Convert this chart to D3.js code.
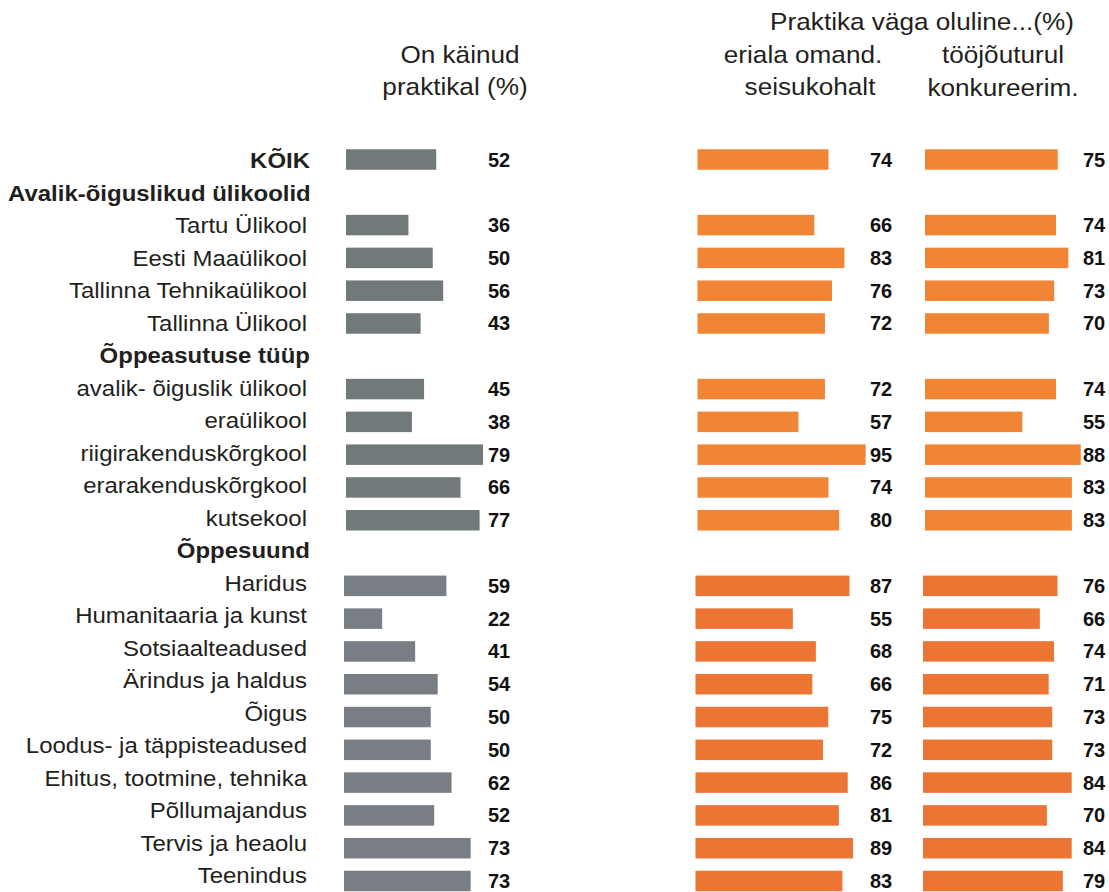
<!DOCTYPE html>
<html><head><meta charset="utf-8">
<script src="https://cdn.jsdelivr.net/npm/d3@7"></script>
<style>
html,body{margin:0;padding:0;background:#fff;}
svg text{font-family:"Liberation Sans",Arial,Helvetica,sans-serif;}
</style></head>
<body>
<svg id="chart" width="1109" height="892"></svg>
<script>
// Row labels (rows with null values are group headers)
const rows = [
  "KÕIK",
  "Avalik-õiguslikud ülikoolid",
  "Tartu Ülikool","Eesti Maaülikool","Tallinna Tehnikaülikool","Tallinna Ülikool",
  "Õppeasutuse tüüp",
  "avalik- õiguslik ülikool","eraülikool","riigirakenduskõrgkool","erarakenduskõrgkool","kutsekool",
  "Õppesuund",
  "Haridus","Humanitaaria ja kunst","Sotsiaalteadused","Ärindus ja haldus","Õigus",
  "Loodus- ja täppisteadused","Ehitus, tootmine, tehnika","Põllumajandus","Tervis ja heaolu","Teenindus"
];
const rowType = ["total","header","item","item","item","item","header","item","item","item","item","item","header",
  "item","item","item","item","item","item","item","item","item","item"];
const section = [1,1,1,1,1,1,2,2,2,2,2,2,3,3,3,3,3,3,3,3,3,3,3];
const onKainud    = [52,null,36,50,56,43,null,45,38,79,66,77,null,59,22,41,54,50,50,62,52,73,73];
const erialaOmand = [74,null,66,83,76,72,null,72,57,95,74,80,null,87,55,68,66,75,72,86,81,89,83];
const tooturul    = [75,null,74,81,73,70,null,74,55,88,83,83,null,76,66,74,71,73,73,84,70,84,79];

const svg = d3.select("#chart");
const idx = d3.range(rows.length);

const y = d3.scalePoint().domain(idx).range([159.5, 881]);
const yLabel = d3.scaleLinear().domain([0, rows.length - 1]).range([168, 883]);
const barH = 20.5;

const xGray = d3.scaleLinear().domain([0, 100]).range([0, 173.5]);
const xOr = d3.scaleLinear().domain([0, 100]).range([0, 177]);

const cols = [
  {vals: onKainud, x0: 346, scale: xGray, valX: 488, colors: {1:"#72797b",2:"#72797b",3:"#787e83"}},
  {vals: erialaOmand, x0: 697.5, scale: xOr, valX: 870, colors: {1:"#f28535",2:"#f28535",3:"#ec7533"}},
  {vals: tooturul, x0: 925, scale: xOr, valX: 1083, colors: {1:"#f28535",2:"#f28535",3:"#ec7533"}}
];
const secShift = {1:0, 2:0, 3:-2};

const stretch = 1.09;

// Row labels
const lab = svg.append("g");
idx.forEach(i => {
  const bold = rowType[i] !== "item";
  let xPos = bold ? 310 : 307;
  let anchor = "end";
  if (i === 1) { xPos = 8; anchor = "start"; }
  lab.append("text")
    .attr("transform", `translate(${xPos},${yLabel(i)}) scale(${stretch},1)`)
    .attr("text-anchor", anchor)
    .attr("font-size", 22)
    .attr("font-weight", bold ? "bold" : "normal")
    .attr("fill", "#231f20")
    .text(rows[i]);
});

// Bars and values
cols.forEach(c => {
  const g = svg.append("g");
  const data = idx.filter(i => c.vals[i] != null);
  g.selectAll("rect").data(data).join("rect")
    .attr("x", i => c.x0 + secShift[section[i]])
    .attr("y", i => y(i) - barH / 2)
    .attr("width", i => c.scale(c.vals[i]))
    .attr("height", barH)
    .attr("fill", i => c.colors[section[i]]);
  g.selectAll("text").data(data).join("text")
    .attr("x", c.valX)
    .attr("y", i => y(i))
    .attr("dy", "0.35em")
    .attr("font-size", 20)
    .attr("font-weight", "bold")
    .attr("fill", "#111")
    .text(i => c.vals[i]);
});

// Column headers
const headers = [
  {t:"Praktika väga oluline...(%)", x:922, y:30},
  {t:"On käinud", x:460, y:63},
  {t:"praktikal (%)", x:455, y:95},
  {t:"eriala omand.", x:803, y:63},
  {t:"seisukohalt", x:810, y:95},
  {t:"tööjõuturul", x:1003, y:63},
  {t:"konkureerim.", x:1003, y:96}
];
headers.forEach(h => {
  svg.append("text")
    .attr("transform", `translate(${h.x},${h.y}) scale(${stretch},1)`)
    .attr("text-anchor", "middle")
    .attr("font-size", 24)
    .attr("fill", "#231f20")
    .text(h.t);
});
</script>
</body></html>
